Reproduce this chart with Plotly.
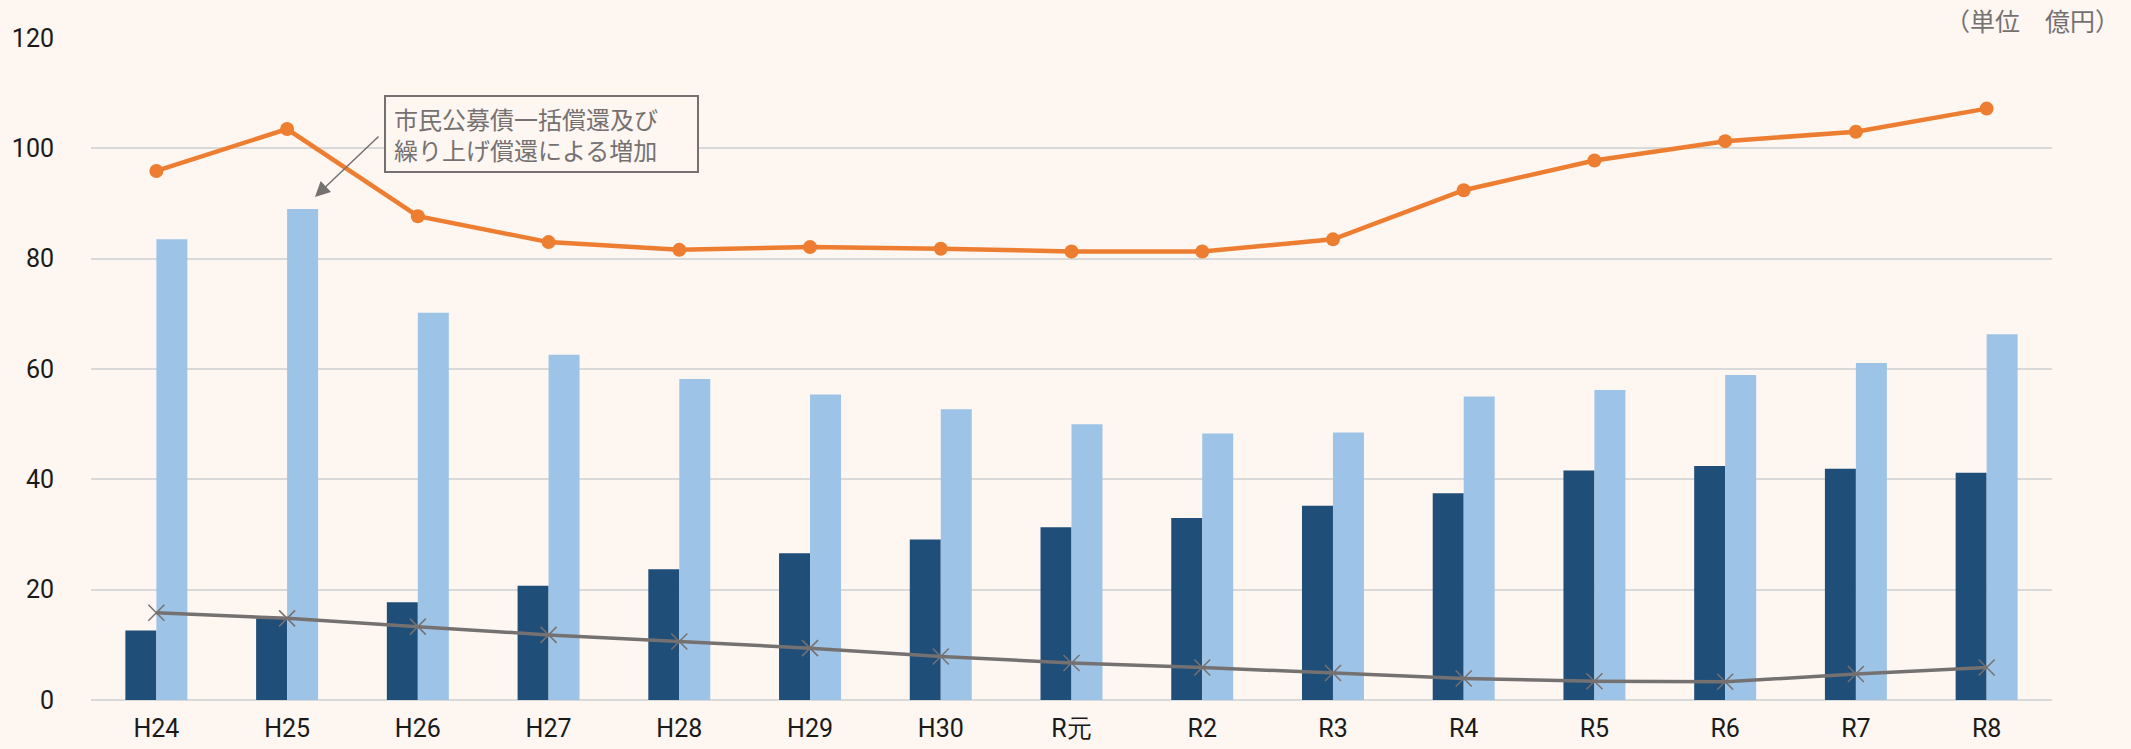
import plotly.graph_objects as go

categories = ["H24", "H25", "H26", "H27", "H28", "H29", "H30", "R元",
              "R2", "R3", "R4", "R5", "R6", "R7", "R8"]
dark_bars = [12.6, 14.8, 17.7, 20.7, 23.7, 26.6, 29.1, 31.3, 33.0, 35.2,
             37.5, 41.6, 42.4, 41.9, 41.2]
light_bars = [83.5, 89.0, 70.2, 62.6, 58.2, 55.4, 52.7, 50.0, 48.3, 48.5,
              55.0, 56.2, 58.9, 61.1, 66.3]
orange_line = [95.9, 103.5, 87.7, 83.0, 81.6, 82.1, 81.8, 81.3, 81.3, 83.5,
               92.4, 97.8, 101.3, 103.0, 107.2]
gray_line = [15.8, 14.8, 13.3, 11.8, 10.6, 9.4, 7.9, 6.7, 5.9, 4.9,
             3.9, 3.4, 3.3, 4.7, 5.9]
y_ticks = [0, 20, 40, 60, 80, 100, 120]

BG = "#FDF6F1"
TICK_FONT = dict(family="Roboto, sans-serif", size=25, color="#1a1a1a")
CJK = "Noto Sans CJK JP, sans-serif"

fig = go.Figure()
fig.add_trace(go.Bar(x=categories, y=dark_bars, marker=dict(color="#1F4E79", line=dict(width=0)),
                     name="dark"))
fig.add_trace(go.Bar(x=categories, y=light_bars, marker=dict(color="#9DC3E6", line=dict(width=0)),
                     name="light"))
fig.add_trace(go.Scatter(x=categories, y=orange_line, mode="lines+markers",
                         line=dict(color="#ED7D31", width=4.5),
                         marker=dict(symbol="circle", size=14, color="#ED7D31"),
                         name="orange"))
fig.add_trace(go.Scatter(x=categories, y=gray_line, mode="lines+markers",
                         line=dict(color="#767171", width=3.5),
                         marker=dict(symbol="x-thin", size=16, color="#767171",
                                     line=dict(color="#767171", width=1.5)),
                         name="gray"))

fig.update_layout(
    width=2131, height=749,
    margin=dict(l=91, r=79, t=38, b=49),
    paper_bgcolor=BG, plot_bgcolor=BG,
    barmode="group", bargap=0.526, bargroupgap=0,
    showlegend=False,
    xaxis=dict(range=[-0.5, len(categories) - 0.5], tickfont=TICK_FONT,
               showgrid=False, ticks="", showline=False,
               ticklabelstandoff=11, automargin=False),
    yaxis=dict(range=[0, 120], tickvals=y_ticks, tickfont=TICK_FONT,
               showgrid=True, gridcolor="#D9D9D9", gridwidth=2,
               zeroline=True, zerolinecolor="#D9D9D9", zerolinewidth=2,
               ticks="", ticklabelstandoff=36, automargin=False),
)

fig.add_annotation(
    xref="paper", yref="paper", x=1.0356, y=1.027, xanchor="right", yanchor="middle",
    text="（単位　億円）", showarrow=False,
    font=dict(family=CJK, size=25, color="#767171"),
)

fig.add_annotation(
    xref="paper", yref="paper", x=0.1495, y=0.914, xanchor="left", yanchor="top",
    text="市民公募債一括償還及び<br>繰り上げ償還による増加", showarrow=False,
    align="left", width=295, height=58, borderpad=8,
    bordercolor="#767171", borderwidth=2, bgcolor=BG,
    font=dict(family=CJK, size=24, color="#767171"),
)

fig.add_annotation(
    xref="x", yref="y", axref="x", ayref="y",
    x=1.213, y=91.2, ax=1.711, ay=102.4, text="",
    showarrow=True, arrowhead=2, arrowsize=2, arrowwidth=1.5, arrowcolor="#767171",
)

fig.write_html("out.html", config={"displayModeBar": False},
               post_script="document.body.style.margin='0';")
